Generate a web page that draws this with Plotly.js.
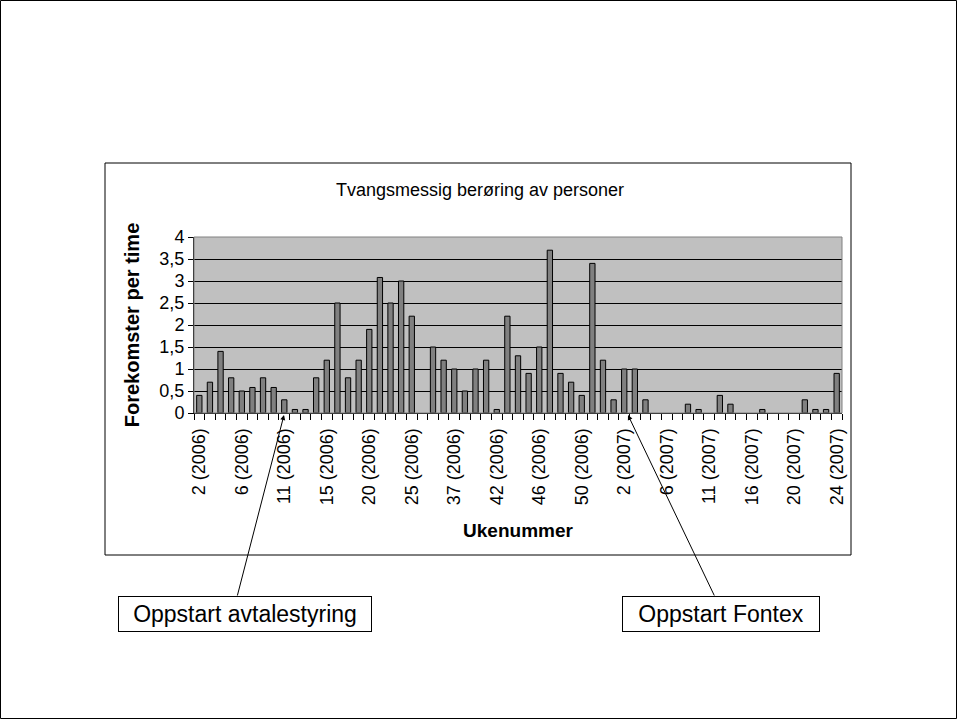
<!DOCTYPE html>
<html>
<head>
<meta charset="utf-8">
<script src="https://cdn.plot.ly/plotly-3.0.1.min.js"></script>
<style>
html,body{margin:0;padding:0;background:#fff;}
#chart{width:957px;height:719px;}
</style>
</head>
<body>
<div id="chart"></div>
<script>
// Week categories (every 4th one is labelled on the axis)
const weeks = [
  "2 (2006)","3 (2006)","4 (2006)","5 (2006)","6 (2006)","7 (2006)","8 (2006)","9 (2006)",
  "11 (2006)","12 (2006)","13 (2006)","14 (2006)","15 (2006)","16 (2006)","17 (2006)","18 (2006)",
  "20 (2006)","21 (2006)","22 (2006)","23 (2006)","25 (2006)","26 (2006)","35 (2006)","36 (2006)",
  "37 (2006)","38 (2006)","39 (2006)","40 (2006)","42 (2006)","43 (2006)","44 (2006)","45 (2006)",
  "46 (2006)","47 (2006)","48 (2006)","49 (2006)","50 (2006)","51 (2006)","52 (2006)","1 (2007)",
  "2 (2007)","3 (2007)","4 (2007)","5 (2007)","6 (2007)","7 (2007)","8 (2007)","9 (2007)",
  "11 (2007)","12 (2007)","13 (2007)","14 (2007)","16 (2007)","17 (2007)","18 (2007)","19 (2007)",
  "20 (2007)","21 (2007)","22 (2007)","23 (2007)","24 (2007)"
];
// Occurrences per hour (null = no bar)
const rate = [
  0.4,0.7,1.4,0.8,0.5,0.58,0.8,0.58,
  0.3,0.08,0.08,0.8,1.2,2.5,0.8,1.2,
  1.9,3.08,2.5,3.0,2.2,null,1.5,1.2,
  1.0,0.5,1.0,1.2,0.08,2.2,1.3,0.9,
  1.5,3.7,0.9,0.7,0.4,3.4,1.2,0.3,
  1.0,1.0,0.3,null,null,null,0.2,0.08,
  null,0.4,0.2,null,null,0.08,null,null,
  null,0.3,0.08,0.08,0.9
];
const labelEvery = 4;
const tickText = weeks.map((w,i)=> i % labelEvery === 0 ? w : "");

const chartTitle = "Tvangsmessig berøring av personer";
const xTitle = "Ukenummer";
const yTitle = "Forekomster per time";
const note1 = "Oppstart avtalestyring";
const note2 = "Oppstart Fontex";

const FONT = "Liberation Sans, Arial, sans-serif";

// pixel -> paper helpers (plot area: x 194..842, y 237..413)
const L=194, R=842, T=237, B=413;
const px = v => (v-L)/(R-L);
const py = v => (B-v)/(B-T);

const trace = {
  type: "bar",
  x: weeks,
  y: rate,
  marker: {color: "#808080", line: {color: "#000000", width: 1}},
  hoverinfo: "x+y"
};

const layout = {
  width: 957, height: 719,
  margin: {l: L, r: 957-R, t: T, b: 719-B},
  paper_bgcolor: "#ffffff",
  plot_bgcolor: "#c0c0c0",
  separators: ", ",
  showlegend: false,
  bargap: 0.5,
  font: {family: FONT, color: "#000", size: 18},
  title: {
    text: chartTitle,
    font: {family: FONT, size: 18, color: "#000"},
    xref: "container", yref: "container",
    x: 480/957, y: 1-190/719, xanchor: "center", yanchor: "middle"
  },
  xaxis: {
    type: "category",
    tickmode: "array",
    tickvals: weeks,
    ticktext: tickText,
    tickson: "boundaries",
    ticks: "outside", ticklen: 6, tickcolor: "#000", tickwidth: 1,
    ticklabelstandoff: 7,
    tickangle: -90,
    tickfont: {family: FONT, size: 18, color: "#000"},
    showgrid: false,
    showline: true, linecolor: "#000", linewidth: 1,
    zeroline: false,
    title: {text: "<b>" + xTitle + "</b>", font: {family: FONT, size: 19, color: "#000"}, standoff: 19}
  },
  yaxis: {
    range: [0, 4],
    dtick: 0.5,
    tick0: 0,
    ticks: "outside", ticklen: 5, tickcolor: "#000",
    tickfont: {family: FONT, size: 18, color: "#000"},
    showgrid: true, gridcolor: "#000", gridwidth: 1,
    showline: true, linecolor: "#000", linewidth: 1,
    zeroline: false,
    title: {text: "<b>" + yTitle + "</b>", font: {family: FONT, size: 20, color: "#000"}, standoff: 14}
  },
  shapes: [
    // outer frame
    {type:"rect", xref:"paper", yref:"paper", x0:px(0.5), x1:px(956.5), y0:py(0.5), y1:py(718.5),
     line:{color:"#000", width:1}, layer:"below"},
    // chart frame
    {type:"rect", xref:"paper", yref:"paper", x0:px(105), x1:px(851), y0:py(163), y1:py(555),
     line:{color:"#000", width:1}, layer:"below"},
    // plot area border
    {type:"rect", xref:"paper", yref:"paper", x0:0, x1:1, y0:0, y1:1,
     line:{color:"#808080", width:1}, layer:"above"}
  ],
  annotations: [
    {xref:"paper", yref:"paper", x:px(284), y:py(415), text:"", showarrow:true,
     ax: 237-284, ay: 597-415, arrowhead:2, arrowsize:1, arrowwidth:1, arrowcolor:"#000"},
    {xref:"paper", yref:"paper", x:px(628), y:py(415), text:"", showarrow:true,
     ax: 715-628, ay: 597-415, arrowhead:2, arrowsize:1, arrowwidth:1, arrowcolor:"#000"},
    {xref:"paper", yref:"paper", x:px(245), y:py(614), text:note1, showarrow:false,
     xanchor:"center", yanchor:"middle", font:{family:FONT, size:23, color:"#000"},
     bgcolor:"#fff", bordercolor:"#000", borderwidth:1, borderpad:2, width:248, height:30},
    {xref:"paper", yref:"paper", x:px(721), y:py(614), text:note2, showarrow:false,
     xanchor:"center", yanchor:"middle", font:{family:FONT, size:23, color:"#000"},
     bgcolor:"#fff", bordercolor:"#000", borderwidth:1, borderpad:2, width:192, height:30}
  ]
};

Plotly.newPlot("chart", [trace], layout, {displayModeBar: false, staticPlot: true});
</script>
</body>
</html>
